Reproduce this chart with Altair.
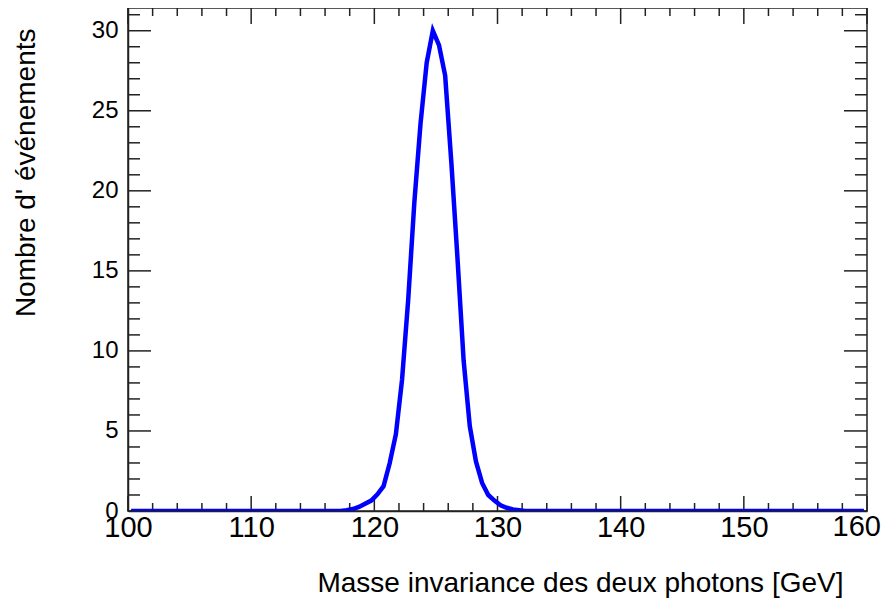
import altair as alt
import pandas as pd

# Histogram of diphoton invariant mass (bin centres, GeV) and counts
mass_gev = [100.25, 117.25, 117.75, 118.25, 118.75, 119.25, 119.75, 120.25, 120.75,
            121.25, 121.75, 122.25, 122.75, 123.25, 123.75, 124.25, 124.75, 125.25,
            125.75, 126.25, 126.75, 127.25, 127.75, 128.25, 128.75, 129.25, 129.75,
            130.25, 130.75, 131.25, 131.75, 132.25, 159.75]
counts = [0.0, 0.0, 0.05, 0.12, 0.25, 0.45, 0.65, 1.04, 1.55,
          3.0, 4.8, 8.2, 13.2, 19.3, 24.2, 28.0, 30.0, 29.1,
          27.2, 21.8, 15.8, 9.4, 5.3, 3.1, 1.75, 1.0, 0.65,
          0.35, 0.2, 0.1, 0.05, 0.0, 0.0]

x_major = [100, 110, 120, 130, 140, 150, 160]
x_minor = [v for v in range(100, 161, 2) if v % 10 != 0]
y_major = [0, 5, 10, 15, 20, 25, 30]
y_minor = [v for v in range(0, 32) if v % 5 != 0]

X_DOMAIN = [100, 160]
Y_DOMAIN = [0, 31.42]

W, H = 739, 503
FONT = "Liberation Sans"
FRAME = "#222222"
XLAB = 29

df = pd.DataFrame({"mass": mass_gev, "n": counts})

xs = alt.Scale(domain=X_DOMAIN, nice=False, zero=False)
ys = alt.Scale(domain=Y_DOMAIN, nice=False)

line = alt.Chart(df).mark_line(color="#0000ff", strokeWidth=4.5, clip=True).encode(
    x=alt.X("mass:Q", scale=xs, axis=alt.Axis(
        values=x_major[:-1], ticks=False, tickSize=0, grid=False, labelPadding=2,
        labelFontSize=XLAB, labelFont=FONT, labelColor="black", format="d",
        domain=True, domainColor=FRAME, domainWidth=1.5, zindex=1,
        labelFlush=False, labelOverlap=False,
        title="Masse invariance des deux photons [GeV]", titleFont=FONT,
        titleFontSize=28, titleFontWeight="normal", titleColor="black",
        titleAlign="right", titleBaseline="alphabetic", titleAnchor="end",
        titleX=W - 24, titleY=80)),
    y=alt.Y("n:Q", scale=ys, axis=alt.Axis(
        values=y_major, ticks=False, tickSize=0, grid=False, labelPadding=10,
        labelFontSize=24, labelFont=FONT, labelColor="black", format="d",
        domain=True, domainColor=FRAME, domainWidth=1.5, zindex=1,
        labelFlush=False, labelOverlap=False,
        title="Nombre d' événements", titleFont=FONT, titleFontSize=28,
        titleFontWeight="normal", titleColor="black", titleAngle=270,
        titleAlign="right", titleBaseline="alphabetic", titleAnchor="end",
        titleX=-94, titleY=20)),
)

# last x label, kept inside the page edge
last_label = alt.Chart(pd.DataFrame({"v": x_major[-1:]})).mark_text(
    font=FONT, fontSize=XLAB, color="black", align="right", baseline="top", dx=14
).encode(x=alt.X("v:Q", scale=xs), y=alt.value(H + 2), text=alt.Text("v:Q", format="d"))


def xticks(vals, y0, y1):
    d = pd.DataFrame({"v": vals})
    return alt.Chart(d).mark_rule(color=FRAME, strokeWidth=1.5).encode(
        x=alt.X("v:Q", scale=xs), y=alt.value(y0), y2=alt.value(y1))


def yticks(vals, x0, x1):
    d = pd.DataFrame({"v": vals})
    return alt.Chart(d).mark_rule(color=FRAME, strokeWidth=1.5).encode(
        y=alt.Y("v:Q", scale=ys), x=alt.value(x0), x2=alt.value(x1))


layers = [
    xticks(x_major, H, H - 15),
    xticks(x_minor, H, H - 8),
    xticks(x_major, 0, 16),
    xticks(x_minor, 0, 8),
    yticks(y_major, 0, 23),
    yticks(y_minor, 0, 12),
    yticks(y_major, W, W - 23),
    yticks(y_minor, W, W - 12),
    line,
    last_label,
]

chart = alt.layer(*layers).properties(
    width=W, height=H,
    autosize=alt.AutoSizeParams(type="none"),
    padding={"left": 120, "top": 0, "right": 15, "bottom": 88},
    background="white",
).configure_view(stroke=FRAME, strokeWidth=1.5)

chart.save("out.html", embed_options={"renderer": "svg", "actions": False})
